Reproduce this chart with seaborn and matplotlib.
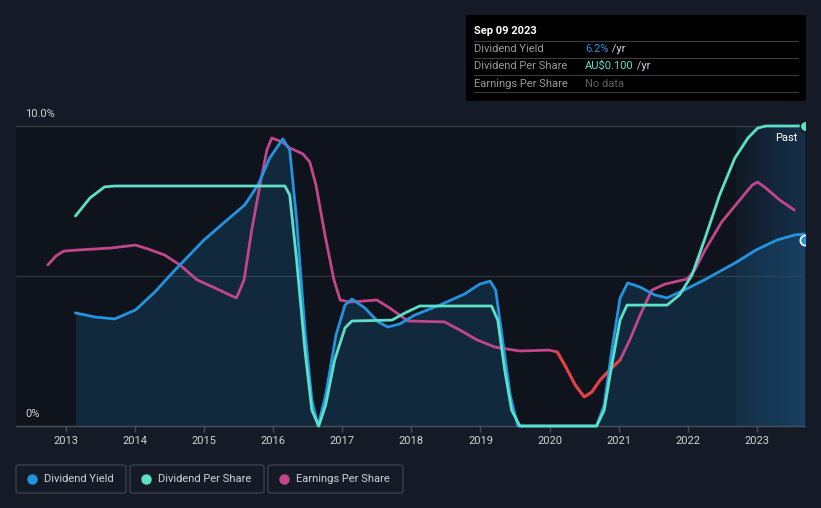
import numpy as np
import pandas as pd
import matplotlib
matplotlib.use('Agg')
import matplotlib.pyplot as plt
from matplotlib.patches import Rectangle, FancyBboxPatch
from matplotlib.colors import LinearSegmentedColormap
from matplotlib.text import Annotation
import seaborn as sns

# values (x in years, y in chart %)
yield_x = [2013.14, 2013.43, 2013.71, 2014.01, 2014.29, 2014.58, 2015.0, 2015.30, 2015.59, 2015.78,
           2015.95, 2016.14, 2016.24, 2016.34, 2016.46, 2016.56, 2016.65, 2016.76, 2016.91, 2017.04,
           2017.14, 2017.33, 2017.52, 2017.66, 2017.83, 2018.05, 2018.41, 2018.77, 2018.99, 2019.14,
           2019.22, 2019.32, 2019.43, 2019.54, 2020.68, 2020.79, 2020.90, 2021.02, 2021.13, 2021.31,
           2021.52, 2021.70, 2021.98, 2022.24, 2022.68, 2022.99, 2023.29, 2023.55, 2023.69]
yield_y = [3.77, 3.63, 3.57, 3.87, 4.47, 5.2, 6.2, 6.8, 7.37, 8.03,
           8.93, 9.57, 9.2, 6.87, 3.2, 0.87, 0.0, 1.03, 3.03, 4.03,
           4.23, 3.93, 3.47, 3.3, 3.4, 3.7, 4.03, 4.4, 4.73, 4.83,
           4.53, 2.87, 1.03, 0.0, 0.0, 0.7, 2.53, 4.27, 4.77, 4.63,
           4.37, 4.27, 4.57, 4.87, 5.43, 5.87, 6.2, 6.37, 6.4]

dps_x = [2013.14, 2013.35, 2013.56, 2013.71, 2016.17, 2016.24, 2016.34, 2016.46, 2016.56, 2016.66,
         2016.76, 2016.89, 2017.04, 2017.14, 2017.72, 2017.91, 2018.12, 2019.16, 2019.25, 2019.35,
         2019.45, 2019.57, 2020.68, 2020.79, 2020.90, 2021.02, 2021.12, 2021.70, 2021.88, 2022.06,
         2022.24, 2022.46, 2022.68, 2022.87, 2023.01, 2023.13, 2023.69]
dps_y = [7.0, 7.6, 7.97, 8.0, 8.0, 7.7, 5.53, 2.53, 0.53, 0.0,
         0.7, 2.2, 3.27, 3.5, 3.53, 3.77, 4.0, 4.0, 3.53, 1.87,
         0.53, 0.0, 0.0, 0.53, 2.03, 3.53, 4.03, 4.03, 4.37, 5.03,
         6.2, 7.7, 8.93, 9.6, 9.93, 10.0, 10.0]

eps_x = [2012.74, 2012.86, 2012.97, 2013.20, 2013.64, 2014.01, 2014.19, 2014.43, 2014.65, 2014.90,
         2015.16, 2015.37, 2015.47, 2015.58, 2015.69, 2015.81, 2015.91, 2015.98, 2016.13, 2016.24,
         2016.43, 2016.53, 2016.62, 2016.75, 2016.88, 2016.97, 2017.11, 2017.50, 2017.69, 2017.95,
         2018.48, 2018.70, 2018.95, 2019.21, 2019.57, 2019.99, 2020.11, 2020.22, 2020.37, 2020.50,
         2020.61, 2020.73, 2020.87, 2021.02, 2021.16, 2021.31, 2021.48, 2021.67, 2021.99, 2022.10,
         2022.25, 2022.49, 2022.75, 2022.93, 2023.01, 2023.13, 2023.33, 2023.54]
eps_y = [5.37, 5.67, 5.83, 5.87, 5.93, 6.03, 5.9, 5.7, 5.37, 4.87,
         4.6, 4.37, 4.27, 4.87, 6.53, 8.03, 9.2, 9.6, 9.47, 9.27,
         9.07, 8.8, 8.03, 6.37, 4.87, 4.2, 4.13, 4.2, 3.93, 3.5,
         3.47, 3.2, 2.87, 2.63, 2.5, 2.53, 2.47, 2.03, 1.37, 0.97,
         1.13, 1.53, 1.87, 2.2, 2.87, 3.7, 4.53, 4.73, 4.9, 5.2,
         5.87, 6.8, 7.53, 8.03, 8.13, 7.93, 7.53, 7.2]
eps_neg_start, eps_neg_end = 2020.11, 2021.02

years = list(range(2013, 2024))
past_start = 2022.7
x_min, x_max = 2012.28, 2023.695

BLUE = '#2394df'
TEAL = '#5ce0c8'
PINK = '#c2478a'
RED = '#e8403f'
BG = '#151b26'
PLOT_BG = '#0f131b'
TXT = '#d0d3d8'

sns.set_theme(style='dark')
plt.rcParams['font.family'] = ['Roboto', 'DejaVu Sans']

fig = plt.figure(figsize=(8.21, 5.08), dpi=100, facecolor=BG)
ax = fig.add_axes([16 / 821, 1 - 426 / 508, 789 / 821, 300 / 508])
ax.set_facecolor(PLOT_BG)

# past region gradient
cmap = LinearSegmentedColormap.from_list('past', [(0.12, 0.33, 0.52, 0.12), (0.12, 0.35, 0.55, 0.42)])
ax.imshow(np.linspace(0, 1, 100).reshape(1, -1), extent=[past_start, x_max, 0, 10], aspect='auto',
          cmap=cmap, zorder=0.5)

ax.fill_between(yield_x, yield_y, 0, color=BLUE, alpha=0.17, lw=0, zorder=1)

ax.axhline(5, color='#2f343d', lw=0.9, zorder=0.8)
ax.axhline(10, color='#3a3f48', lw=0.9, zorder=0.8)

df_y = pd.DataFrame({'x': yield_x, 'y': yield_y})
df_d = pd.DataFrame({'x': dps_x, 'y': dps_y})
df_e = pd.DataFrame({'x': eps_x, 'y': eps_y})
df_neg = df_e[(df_e.x >= eps_neg_start) & (df_e.x <= eps_neg_end)]

lw = 2.0
sns.lineplot(data=df_e, x='x', y='y', ax=ax, color=PINK, lw=lw, sort=False, zorder=3)
sns.lineplot(data=df_neg, x='x', y='y', ax=ax, color=RED, lw=lw, sort=False, zorder=3.1)
sns.lineplot(data=df_y, x='x', y='y', ax=ax, color=BLUE, lw=lw, sort=False, zorder=4)
sns.lineplot(data=df_d, x='x', y='y', ax=ax, color=TEAL, lw=lw, sort=False, zorder=5)

clip = Rectangle((0, -0.1), 1, 1.3, transform=ax.transAxes, fill=False)
for ln in ax.lines:
    ln.set_clip_path(clip)
    ln.set_solid_capstyle('round')
    ln.set_solid_joinstyle('round')

m1 = ax.scatter([dps_x[-1]], [dps_y[-1]], s=55, color=TEAL, edgecolor=PLOT_BG, lw=1, zorder=6)
m2 = ax.scatter([yield_x[-1]], [6.2], s=55, color=BLUE, edgecolor='white', lw=1.2, zorder=6)
m1.set_clip_path(clip)
m2.set_clip_path(clip)

ax.set_xlim(x_min, x_max)
ax.set_ylim(0, 10)
ax.set_xticks(years)
ax.set_xticklabels([str(y) for y in years])
ax.set_yticks([])
ax.set_xlabel('')
ax.set_ylabel('')
ax.tick_params(axis='x', colors='#4a4f58', labelcolor=TXT, labelsize=8, length=4, width=1,
               bottom=True, pad=3)
for side in ['top', 'right', 'left']:
    ax.spines[side].set_visible(False)
ax.spines['bottom'].set_color('#4a4f58')
ax.spines['bottom'].set_linewidth(1)
ax.grid(False)

ax.text(2012.41, 10.4, '10.0%', color=TXT, fontsize=8, va='center', ha='left')
ax.text(2012.41, 0.4, '0%', color=TXT, fontsize=8, va='center', ha='left')
ax.text(2023.42, 9.6, 'Past', color='white', fontsize=8, va='center', ha='center')


# tooltip box
def fx(px):
    return px / 821


def fy(py):
    return 1 - py / 508


fig.patches.append(Rectangle((fx(466), fy(101)), fx(340), 86 / 508, transform=fig.transFigure,
                             facecolor='#000000', edgecolor='none', zorder=10))
fig.text(fx(474), fy(31), 'Sep 09 2023', color='white', fontsize=8, fontweight='bold',
         va='center', zorder=11)
for py in [41, 58, 75, 92]:
    fig.add_artist(plt.Line2D([fx(474), fx(798)], [fy(py), fy(py)], transform=fig.transFigure,
                              color='#3d3d3d', lw=0.8, zorder=11))
rows = [('Dividend Yield', '6.2%', BLUE, ' /yr', 49),
        ('Dividend Per Share', 'AU\\$0.100', TEAL, ' /yr', 66),
        ('Earnings Per Share', 'No data', '#5f5f5f', '', 84)]
for label, val, col, unit, py in rows:
    fig.text(fx(474), fy(py), label, color='#9a9a9a', fontsize=8, va='center', zorder=11)
    t = fig.text(fx(585), fy(py), val, color=col, fontsize=8, va='center', zorder=11)
    if unit:
        ann = Annotation(unit, xy=(1, 0.5), xycoords=t, va='center', ha='left', color=TXT,
                         fontsize=8, annotation_clip=False, zorder=11)
        fig.add_artist(ann)

# legend boxes
legend = [('Dividend Yield', BLUE, 16, 126), ('Dividend Per Share', TEAL, 130, 264),
          ('Earnings Per Share', PINK, 268, 403)]
for name, col, x0, x1 in legend:
    fig.patches.append(FancyBboxPatch((fx(x0), fy(493)), fx(x1 - x0), 28 / 508,
                                      boxstyle='round,pad=0,rounding_size=0.004',
                                      transform=fig.transFigure, facecolor='none',
                                      edgecolor='#3a404a', lw=1))
    fig.add_artist(plt.Line2D([fx(x0 + 16)], [fy(479)], marker='o', markersize=6.5, color=col,
                              lw=0, transform=fig.transFigure))
    fig.text(fx(x0 + 28), fy(479), name, color=TXT, fontsize=8, va='center')

fig.savefig('out.png', dpi=100, facecolor=BG)
